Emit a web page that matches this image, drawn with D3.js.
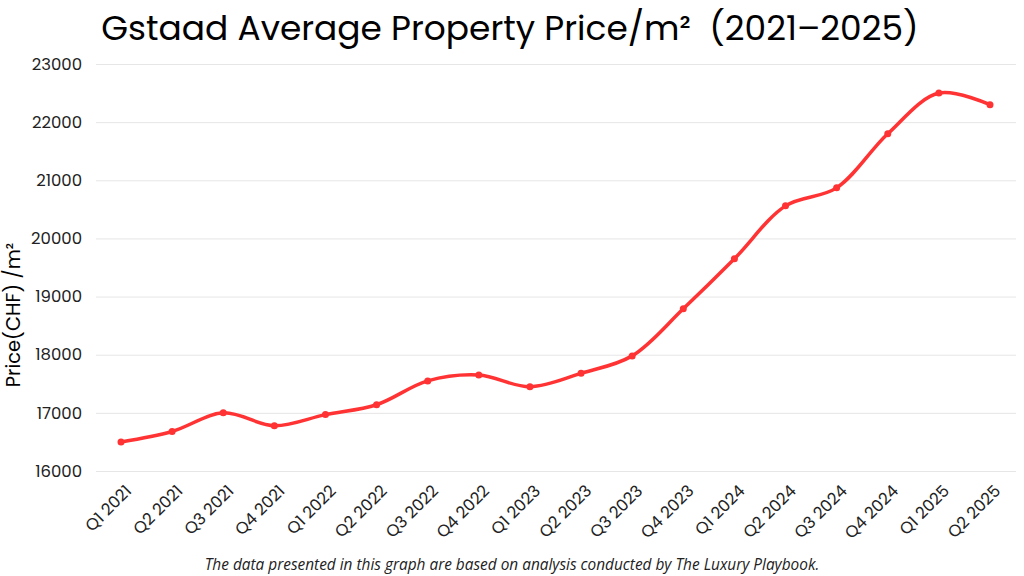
<!DOCTYPE html>
<html><head><meta charset="utf-8">
<script src="https://cdn.jsdelivr.net/npm/d3@7"></script>
<style>body{margin:0;background:#fff;}svg{display:block;}</style>
</head><body>
<svg id="c" width="1024" height="576"></svg>
<script>
const quarters = ["Q1 2021","Q2 2021","Q3 2021","Q4 2021","Q1 2022","Q2 2022","Q3 2022","Q4 2022","Q1 2023","Q2 2023","Q3 2023","Q4 2023","Q1 2024","Q2 2024","Q3 2024","Q4 2024","Q1 2025","Q2 2025"];
const prices = [16500,16680,17000,16780,16970,17140,17550,17650,17450,17680,17980,18790,19650,20560,20870,21800,22500,22300];
const yTicks = [16000,17000,18000,19000,20000,21000,22000,23000];

(function(){
const svg = d3.select("#c");
const font = "Poppins, 'Open Sans', Lato, sans-serif";
const pL = 96, pR = 1016, pT = 64, pB = 471;
const x = d3.scalePoint().domain(quarters).range([121, 990]);
const y = d3.scaleLinear().domain([16000, 23000]).range([pB, pT]);

svg.append("text").attr("x", 510).attr("y", 40).attr("text-anchor","middle")
  .attr("xml:space","preserve").style("white-space","pre")
  .attr("font-family", font).attr("font-size", 34.4).attr("fill","#000")
  .text("Gstaad Average Property Price/m\u00B2  (2021\u20132025)");

const gy = svg.append("g").attr("transform", `translate(${pL},0)`)
  .call(d3.axisLeft(y).tickValues(yTicks).tickFormat(d3.format("d")).tickSize(-(pR-pL)).tickPadding(14));
gy.select(".domain").remove();
gy.selectAll(".tick line").attr("stroke","#e6e6e6").attr("stroke-width",1);
gy.selectAll(".tick text").attr("font-family", font).attr("font-size", 16.5).attr("fill","#222");

const gx = svg.append("g").attr("transform", `translate(0,${pB})`)
  .call(d3.axisBottom(x).tickSize(0).tickPadding(0));
gx.select(".domain").remove();
gx.selectAll(".tick text").attr("font-family", font).attr("font-size", 16.5).attr("fill","#222")
  .attr("text-anchor","end").attr("dy", 0).attr("transform","translate(11,21) rotate(-45)");

svg.append("text").attr("transform","translate(20,315) rotate(-90)").attr("text-anchor","middle")
  .attr("font-family", font).attr("font-size", 19.5).attr("fill","#000").text("Price(CHF) /m\u00B2");

const line = d3.line().x((d,i)=>x(quarters[i])).y(d=>y(d)).curve(d3.curveCatmullRom.alpha(0.5));
svg.append("path").datum(prices).attr("d", line).attr("fill","none")
  .attr("stroke","#ff3333").attr("stroke-width",3.5).attr("stroke-linecap","round");
svg.selectAll("circle.pt").data(prices).join("circle").attr("class","pt")
  .attr("cx",(d,i)=>x(quarters[i])).attr("cy",d=>y(d)).attr("r",3.5).attr("fill","#ff3333");

svg.append("text").attr("x", 512).attr("y", 570).attr("text-anchor","middle")
  .attr("font-family", "'Open Sans', Lato, sans-serif").attr("font-style","italic").attr("font-size", 15.4).attr("fill","#222")
  .text("The data presented in this graph are based on analysis conducted by The Luxury Playbook.");
})();
</script>
</body></html>
